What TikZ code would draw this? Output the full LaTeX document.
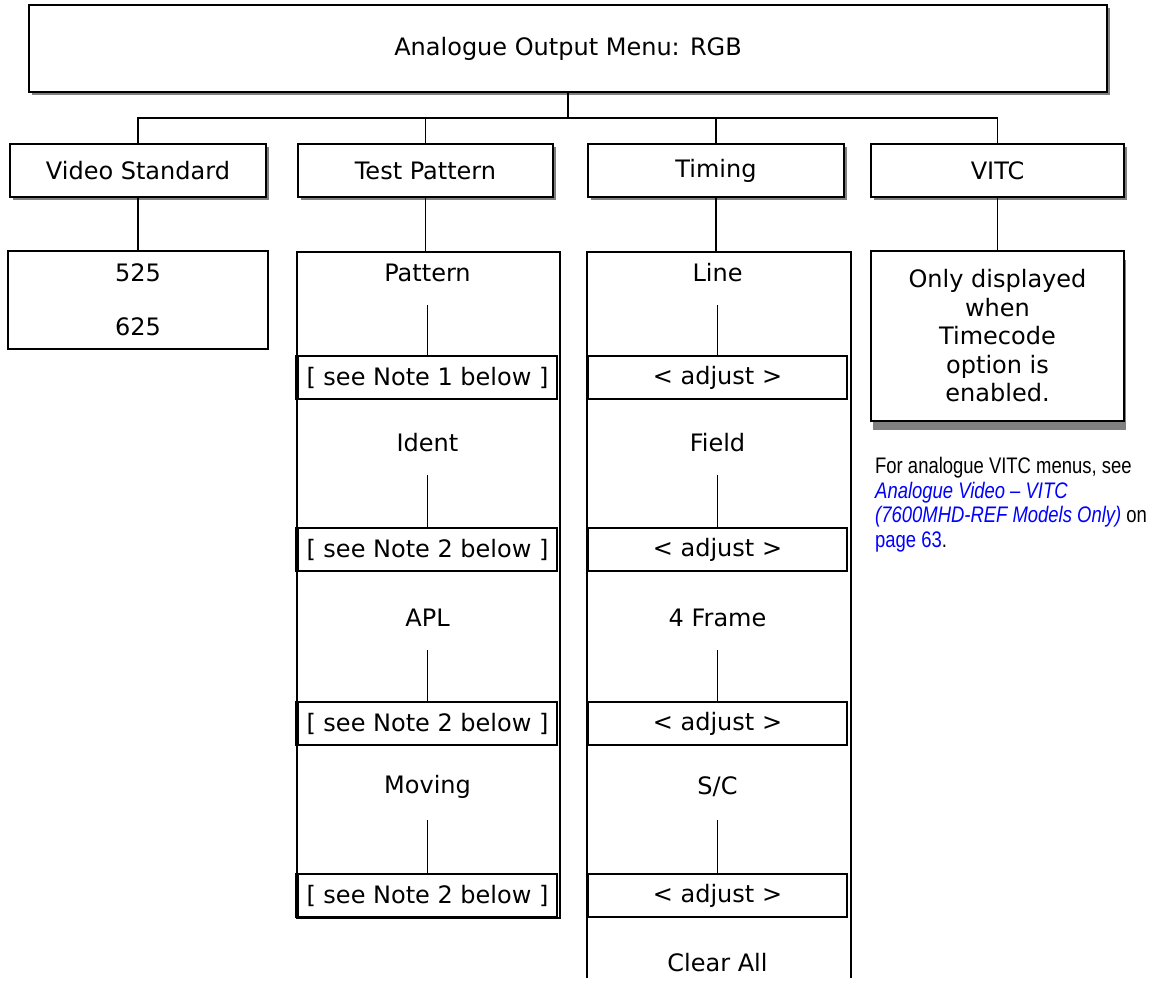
\documentclass[tikz,border=0pt]{standalone}
\usepackage{fontspec}
\setmainfont{DejaVu Sans}
\newfontfamily\notefont[FakeStretch=0.82]{Liberation Sans}
\usetikzlibrary{shadows}
\definecolor{linkblue}{RGB}{0,0,255}
\definecolor{shadowgray}{RGB}{128,128,128}
\begin{document}
\begin{tikzpicture}[x=1pt,y=-1pt,
  box/.style={draw, line width=1.4pt, fill=white, inner sep=0pt,
    font=\fontsize{24}{28}\selectfont},
  shad/.style={drop shadow={shadow xshift=3pt, shadow yshift=-3pt, fill=shadowgray, opacity=1}},
  bigshad/.style={drop shadow={shadow xshift=2pt, shadow yshift=-9pt, fill=shadowgray, opacity=1}},
  lbl/.style={inner sep=0pt, font=\fontsize{24}{28}\selectfont},
  inbox/.style={box, minimum width=259pt, minimum height=43pt},
  conn/.style={line width=1.8pt},
  notetext/.style={inner sep=0pt, align=left, font=\notefont\fontsize{22.5}{24.5}\selectfont}
]
\useasboundingbox (0,0) rectangle (1162,981);

% top
\node[box,shad,minimum width=1078pt,minimum height=87pt] (top) at (568,48.5) {Analogue Output Menu: RGB};

% headers
\node[box,shad,minimum width=256pt,minimum height=53pt] (vs) at (138,170.5) {Video Standard};
\node[box,shad,minimum width=255pt,minimum height=53pt] (tp) at (425.5,170.5) {Test Pattern};
\node[box,shad,minimum width=256pt,minimum height=53pt] (tim) at (716,170.5) {Timing};
\node[box,shad,minimum width=253pt,minimum height=53pt] (vitc) at (997.5,170.5) {VITC};

% bus
\draw[conn] (top.south) -- ++(0,25) coordinate (bus);
\draw[conn] (vs.north) |- (bus) -| (vitc.north);
\draw[conn] (tp.north) -- (tp.north |- bus);
\draw[conn] (tim.north) -- (tim.north |- bus);

% video standard column
\node[box,minimum width=260pt,minimum height=98pt,align=center,
  font=\fontsize{24}{54}\selectfont] (std) at (138,300) {525\\625};
\draw[conn] (vs.south) -- (std.north);

% test pattern column
\node[box,minimum width=263pt,minimum height=666pt] (tpcol) at (428.5,585) {};
\draw[conn] (tp.south) -- (tp.south |- tpcol.north);

\node[lbl] (p1) at (427.5,273) {Pattern};
\node[lbl] (p2) at (427.5,443) {Ident};
\node[lbl] (p3) at (427.5,618) {APL};
\node[lbl] (p4) at (427.5,787) {Moving};
\node[inbox] (n1) at (427.5,377.5) {[ see Note 1 below ]};
\node[inbox] (n2) at (427.5,549.5) {[ see Note 2 below ]};
\node[inbox] (n3) at (427.5,723.5) {[ see Note 2 below ]};
\node[inbox] (n4) at (427.5,895.5) {[ see Note 2 below ]};
\draw[conn] (p1.center) ++(0,32) -- (n1.north);
\draw[conn] (p2.center) ++(0,32) -- (n2.north);
\draw[conn] (p3.center) ++(0,32) -- (n3.north);
\draw[conn] (p4.center) ++(0,33) -- (n4.north);
\draw[line width=2.2pt] (tpcol.north west |- n1.north) -- (tpcol.north west |- n1.south);
\draw[line width=2.2pt] (tpcol.north west |- n2.north) -- (tpcol.north west |- n2.south);
\draw[line width=2.2pt] (tpcol.north west |- n3.north) -- (tpcol.north west |- n3.south);
\draw[line width=2.2pt] (tpcol.north west |- n4.north) -- (tpcol.north west |- n4.south);

% timing column (open at the bottom)
\node[minimum width=264pt,minimum height=726pt,inner sep=0pt] (timcol) at (719,615) {};
\draw[line width=1.6pt] (timcol.south west) -- (timcol.north west) -- (timcol.north east) -- (timcol.south east);
\draw[conn] (tim.south) -- (tim.south |- timcol.north);

\node[lbl] (t1) at (717.5,273) {Line};
\node[lbl] (t2) at (717.5,443) {Field};
\node[lbl] (t3) at (717.5,618) {4 Frame};
\node[lbl] (t4) at (717.5,787) {S/C};
\node[lbl] (t5) at (717.5,963) {Clear All};
\node[inbox] (a1) at (717.5,377.5) {< adjust >};
\node[inbox] (a2) at (717.5,549.5) {< adjust >};
\node[inbox] (a3) at (717.5,723.5) {< adjust >};
\node[inbox] (a4) at (717.5,895.5) {< adjust >};
\draw[conn] (t1.center) ++(0,32) -- (a1.north);
\draw[conn] (t2.center) ++(0,32) -- (a2.north);
\draw[conn] (t3.center) ++(0,32) -- (a3.north);
\draw[conn] (t4.center) ++(0,33) -- (a4.north);
\draw[line width=2.2pt] (timcol.north west |- a1.north) -- (timcol.north west |- a1.south);
\draw[line width=2.2pt] (timcol.north west |- a2.north) -- (timcol.north west |- a2.south);
\draw[line width=2.2pt] (timcol.north west |- a3.north) -- (timcol.north west |- a3.south);
\draw[line width=2.2pt] (timcol.north west |- a4.north) -- (timcol.north west |- a4.south);

% VITC column
\node[box,bigshad,minimum width=253pt,minimum height=170pt,align=center,
  font=\fontsize{24}{28.5}\selectfont] (vitccol) at (997.5,336)
  {Only displayed\\when\\Timecode\\option is\\enabled.};
\draw[conn] (vitc.south) -- (vitccol.north);

% note
\node[notetext,anchor=north west] (note) at (875,457)
  {For analogue VITC menus, see\\
   \textcolor{linkblue}{\itshape Analogue Video – VITC}\\
   \textcolor{linkblue}{\itshape (7600MHD-REF Models Only)} on\\
   \textcolor{linkblue}{page 63}.};
\end{tikzpicture}
\end{document}
